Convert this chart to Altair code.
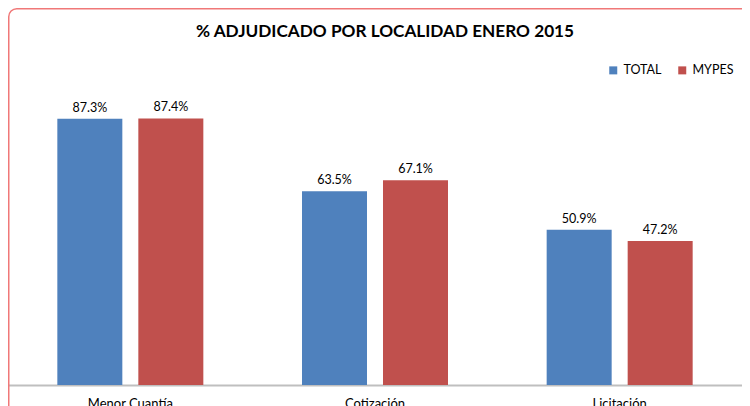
import altair as alt
import pandas as pd

categories = ["Menor Cuantía", "Cotización", "Licitación"]
series = ["TOTAL", "MYPES"]
total = [87.3, 63.5, 50.9]
mypes = [87.4, 67.1, 47.2]
colors = ["#4F81BD", "#C0504D"]
title_text = "% ADJUDICADO POR LOCALIDAD ENERO 2015"

rows = []
for c, t, m in zip(categories, total, mypes):
    rows.append({"cat": c, "serie": "TOTAL", "val": t, "lbl": f"{t:.1f}%"})
    rows.append({"cat": c, "serie": "MYPES", "val": m, "lbl": f"{m:.1f}%"})
df = pd.DataFrame(rows)

FONT = "Lato"
W, H = 734, 305

x = alt.X("cat:N", sort=categories, title=None,
          scale=alt.Scale(paddingInner=0, paddingOuter=0),
          axis=alt.Axis(labelAngle=0, ticks=False, labelPadding=12, labelFontSize=13,
                        labelFont=FONT, labelColor="#000000", domainColor="#bfbfbf",
                        domainWidth=2))
xo = alt.XOffset("serie:N", sort=series,
                 scale=alt.Scale(paddingInner=0.1975, paddingOuter=0.609))
y = alt.Y("val:Q", scale=alt.Scale(domain=[0, 100]), axis=None)
color = alt.Color("serie:N", sort=series,
                  scale=alt.Scale(domain=series, range=colors),
                  legend=alt.Legend(title=None, orient="none", legendX=599, legendY=-16,
                                    direction="horizontal", symbolType="square",
                                    symbolSize=64, symbolStrokeWidth=0, labelFont=FONT,
                                    labelFontSize=12.5, labelColor="#000000",
                                    columnPadding=14, labelOffset=4))

base = alt.Chart(df)
bars = base.mark_bar().encode(x=x, xOffset=xo, y=y, color=color)
labels = base.mark_text(dy=-7, baseline="alphabetic", font=FONT, fontSize=12.5,
                        color="#000000").encode(x=x, xOffset=xo, y=y, text="lbl:N")

one = pd.DataFrame({"t": [title_text]})
border = alt.Chart(one).mark_rect(
    fill=None, stroke="#F07878", strokeWidth=1.5, cornerRadius=8
).encode(x=alt.value(0.75), x2=alt.value(760), y=alt.value(-71.25), y2=alt.value(340))

title = alt.Chart(one).mark_text(
    font=FONT, fontSize=17.2, fontWeight="bold", color="#000000",
    align="center", baseline="alphabetic"
).encode(x=alt.value(377), y=alt.value(-43.5), text="t:N")

chart = alt.layer(border, title, bars, labels).properties(
    width=W, height=H,
    padding={"left": 0, "top": 72, "right": 0, "bottom": 21},
    autosize=alt.AutoSizeParams(type="none"),
).configure_view(stroke=None)

chart.save("out.html", embed_options={"renderer": "svg", "actions": False})
